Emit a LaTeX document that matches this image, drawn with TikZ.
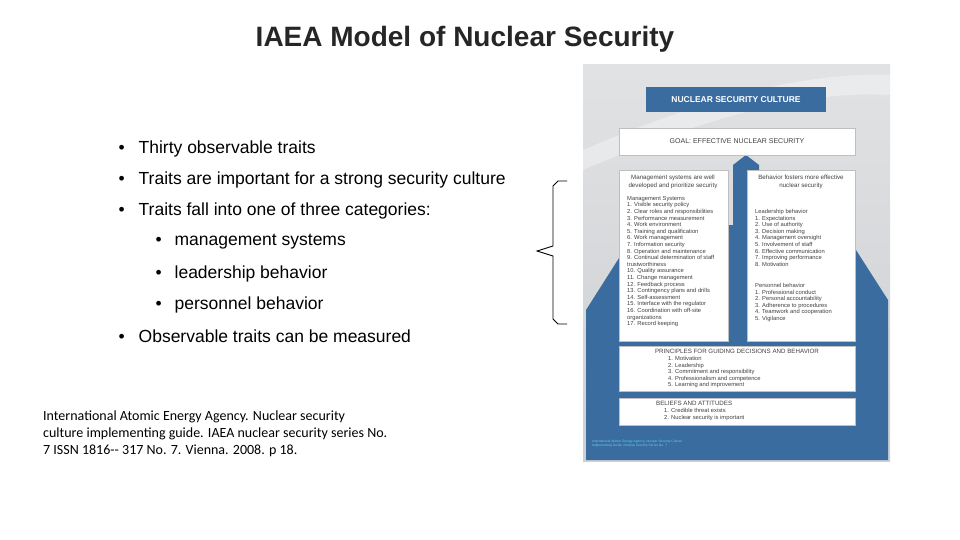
\documentclass[tikz,border=0pt]{standalone}
\usepackage{fontspec}
\setmainfont{Liberation Sans}
\newfontfamily\carlitofont{Carlito}
\usetikzlibrary{calc}
\definecolor{nblue}{RGB}{58,108,160}
\definecolor{lgray}{RGB}{205,207,210}
\begin{document}
\begin{tikzpicture}[x=1pt,y=-1pt,
  bul/.style={anchor=west,font=\fontsize{17.5}{20}\selectfont},
  wbox/.style={draw=gray!50,fill=white,line width=0.4pt},
  tiny/.style={font=\fontsize{5.8}{6.6}\selectfont,align=left,anchor=north west,inner sep=0pt,text=black!75}]
\useasboundingbox (0,0) rectangle (960,540);
\node[font=\bfseries\fontsize{28}{30}\selectfont,text=black!85] (title) at (465,39) {IAEA Model of Nuclear Security};
% bullets
\foreach \y/\t in {149/Thirty observable traits,180/Traits are important for a strong security culture,211/Traits fall into one of three categories:,336/Observable traits can be measured}{
  \node[bul] at (115,\y) {•\hspace{14pt}\t};}
\foreach \y/\t in {242/management systems,274/leadership behavior,305/personnel behavior}{
  \node[bul] at (152,\y) {•\hspace{13pt}\t};}
\node[anchor=north west,align=left,font=\carlitofont\fontsize{14}{17}\selectfont,inner sep=0pt] (cite) at (43,411) {International Atomic Energy Agency. Nuclear security\\culture implementing guide. IAEA nuclear security series No.\\7 ISSN 1816-- 317 No. 7. Vienna. 2008. p 18.};
% brace
\coordinate (bt) at (567,181); \coordinate (bb) at (567,324); \coordinate (tip) at (537,251);
\draw[line width=0.9pt] (bt) -- (558,181) -- (553,186) -- (553,246) -- (tip) -- (553,256) -- (553,319) -- (558,324) -- (bb);
% image panel
\shade[top color=lgray!60,bottom color=lgray] (583,65) rectangle (890,461);
\fill[white,opacity=0.35] (583,170) .. controls (700,120) and (800,90) .. (890,95) -- (890,75) .. controls (800,72) and (700,100) .. (583,150) -- cycle;
\fill[nblue] (586,310) -- (640,225) -- (840,225) -- (888,300) -- (888,460) -- (586,460) -- cycle;
\fill[nblue] (733,230) -- (733,165) -- (746,155) -- (759,165) -- (759,230) -- cycle;
\node[fill=nblue,minimum width=180pt,minimum height=25pt,text=white,font=\bfseries\fontsize{8.5}{9}\selectfont,inner sep=0pt] (nsc) at (736,100) {NUCLEAR SECURITY CULTURE};
\node[wbox,minimum width=236pt,minimum height=27pt,inner sep=0pt,font=\fontsize{7}{7}\selectfont,text=black!75] (goal) at (737,141.5) {GOAL: EFFECTIVE NUCLEAR SECURITY};
\draw[wbox] (619,170) rectangle (728,341);
\draw[wbox] (747,170) rectangle (855,341);
\draw[wbox] (619,346) rectangle (855,391);
\draw[wbox] (619,398) rectangle (855,425);
\node[tiny,font=\fontsize{6.2}{7.5}\selectfont,align=center,anchor=north] (lh) at (673,175) {Management systems are well\\developed and prioritize security};
\node[tiny,font=\fontsize{6.2}{7.5}\selectfont,align=center,anchor=north] (rh) at (801,175) {Behavior fosters more effective\\nuclear security};
\node[tiny] (ms) at (627,196) {Management Systems\\1. Visible security policy\\2. Clear roles and responsibilities\\3. Performance measurement\\4. Work environment\\5. Training and qualification\\6. Work management\\7. Information security\\8. Operation and maintenance\\9. Continual determination of staff\\trustworthiness\\10. Quality assurance\\11. Change management\\12. Feedback process\\13. Contingency plans and drills\\14. Self-assessment\\15. Interface with the regulator\\16. Coordination with off-site\\organizations\\17. Record keeping};
\node[tiny] (lb) at (755,209) {Leadership behavior\\1. Expectations\\2. Use of authority\\3. Decision making\\4. Management oversight\\5. Involvement of staff\\6. Effective communication\\7. Improving performance\\8. Motivation};
\node[tiny] (pb) at (755,283) {Personnel behavior\\1. Professional conduct\\2. Personal accountability\\3. Adherence to procedures\\4. Teamwork and cooperation\\5. Vigilance};
\node[tiny,font=\fontsize{6.2}{7}\selectfont,anchor=north] (pr) at (737,349) {PRINCIPLES FOR GUIDING DECISIONS AND BEHAVIOR};
\node[tiny] (prl) at (668,356) {1. Motivation\\2. Leadership\\3. Commitment and responsibility\\4. Professionalism and competence\\5. Learning and improvement};
\node[tiny,font=\fontsize{6.2}{7}\selectfont] (ba) at (656,401) {BELIEFS AND ATTITUDES};
\node[tiny] (bal) at (664,408) {1. Credible threat exists\\2. Nuclear security is important};
\node[tiny,font=\fontsize{3.3}{4.3}\selectfont,text=cyan!60] (ft) at (592,440) {International Atomic Energy Agency, Nuclear Security Culture\\Implementing Guide, Nuclear Security Series No. 7};
\end{tikzpicture}
\end{document}
